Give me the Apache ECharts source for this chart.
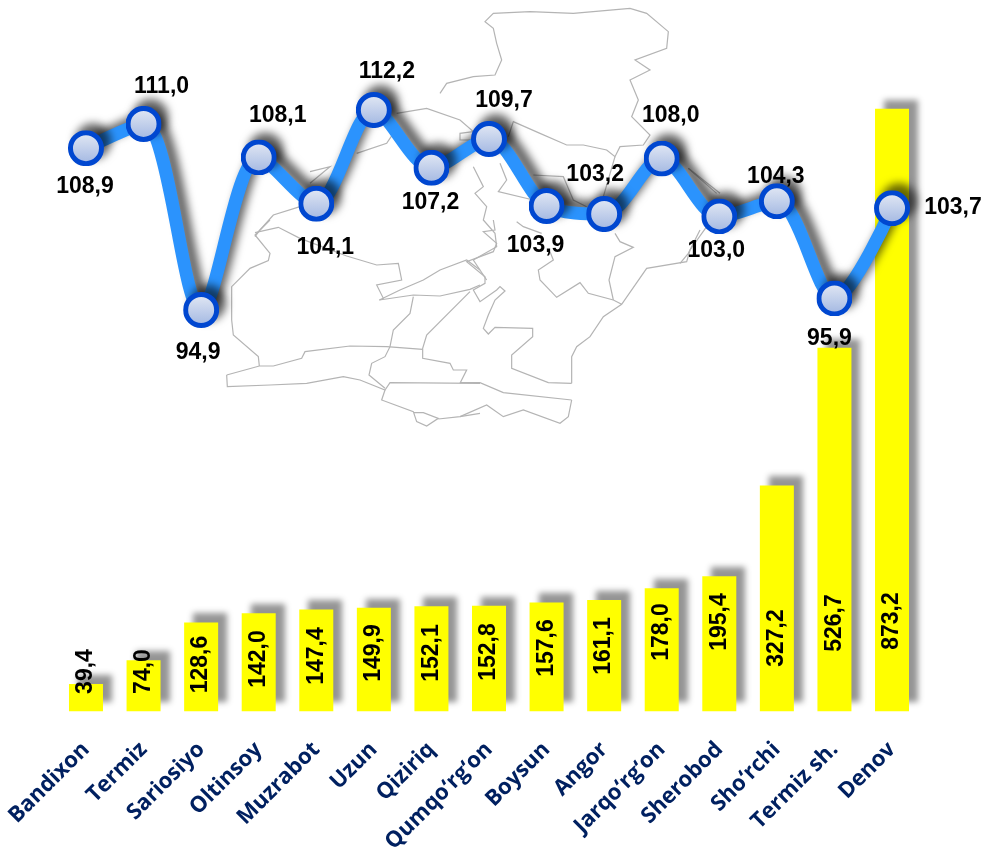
<!DOCTYPE html>
<html><head><meta charset="utf-8">
<script src="https://cdn.jsdelivr.net/npm/echarts@6/dist/echarts.min.js"></script>
<style>html,body{margin:0;padding:0;background:#fff}#c{width:985px;height:857px}</style>
</head><body><div id="c"></div>
<script>
const districts = ['Bandixon','Termiz','Sariosiyo','Oltinsoy','Muzrabot','Uzun','Qiziriq','Qumqo‘rg‘on','Boysun','Angor','Jarqo‘rg‘on','Sherobod','Sho‘rchi','Termiz sh.','Denov'];
const barValues = [39.4,74.0,128.6,142.0,147.4,149.9,152.1,152.8,157.6,161.1,178.0,195.4,327.2,526.7,873.2];
const lineValues = [108.9,111.0,94.9,108.1,104.1,112.2,107.2,109.7,103.9,103.2,108.0,103.0,104.3,95.9,103.7];

// label placement (layout only, px)
const lineLabelOffsets = [[-1,38],[18,-37],[-3,43],[19,-42],[9,44],[13,-38],[-1,35],[15,-38],[-11,40],[-9,-39],[9,-43],[-3,34],[-1,-25],[-5,40],[61,-1]];
const barLabelLift = [40.5,40.5,47.5,53,56,59,59,60,64,66,80,90,74,89,91];

// decorative map outline behind the chart: [cropX, cropY, points in 3x crop coordinates]
const mapOutline = [
 [220,220,[150,0,105,45,150,100,145,122,90,145,35,200,35,300,40,345,115,410,118,438]],
 [220,220,[105,38,175,22,240,55,380,108,470,135,535,130,545,180,470,195,490,235,478,240,540,210,610,180,660,150,740,120,780,150]],
 [220,220,[478,240,580,225,660,228,750,208,780,195]],
 [220,220,[580,230,570,280,520,330,510,380,495,410,455,430,447,465,495,505]],
 [220,220,[750,215,690,275,620,345,608,385,608,415,690,430,700,450,740,450,720,490]],
 [220,220,[20,465,118,438,160,438,245,415,255,395,390,378,500,380,608,388]],
 [220,220,[20,465,22,500,150,495,260,490,370,470,420,480,495,510,510,488,780,490]],
 [220,220,[495,510,485,540,580,575,590,605,620,618,655,595,610,578,580,578]],
 [220,220,[655,597,720,590,780,580]],
 [460,220,[100,0,105,30,70,35,110,70,100,95,20,125,75,170,75,190,40,210,60,245,110,210,120,200,135,213,105,240,85,285,70,325,85,342,105,322,218,325,218,350,155,405,155,445,265,488,335,490]],
 [460,220,[0,488,60,488,130,518,335,540]],
 [460,220,[335,490,335,410,350,380,390,350,430,290,485,253,560,145,680,125,690,90,740,20]],
 [460,220,[0,590,80,555,130,590,190,570,300,610,325,590,335,540]],
 [460,220,[485,253,460,240,385,220,360,188,290,232,240,180,235,150,280,120,270,95]],
 [460,220,[245,40,190,20,170,5]],
 [460,220,[460,240,447,180,465,110,520,82,480,65,465,40]],
 [440,0,[0,280,20,250,100,230,165,225,185,180,170,130,160,85,135,65,160,40,270,35,400,40,570,25,620,40,685,95,680,145,585,180,630,210,570,240,595,300,575,350,630,405,610,435,540,440,525,470,500,450,430,435,380,435,300,400,220,365,205,410]],
 [440,0,[525,470,490,590]],
 [440,0,[745,505,840,580]],
 [440,0,[280,525,370,530,400,600,440,620]],
 [440,0,[180,490,200,540,175,575,280,600]],
 [220,0,[530,340,620,325,720,360,760,395,720,400,720,420,760,420]],
 [220,0,[240,620,160,645,120,690,105,710]],
 [220,0,[410,460,500,430,520,400]],
 [220,0,[270,515,330,500,270,550]],
 [220,0,[760,500,790,560,765,580,800,620,790,660,825,700,830,740,760,780,800,840]],
 [680,90,[25,235,110,310]],
 [680,90,[60,420,25,490,0,520]]
];

const barMin = -1.16, barMax = 1001.7, gridTop = 20, gridBottom = 145, gridH = 857 - gridTop - gridBottom;
const pxPerUnit = gridH / (barMax - barMin);
const fmt = v => v.toFixed(1).replace('.', ',');

const markerSvg = '<svg xmlns="http://www.w3.org/2000/svg" width="36" height="36"><defs><linearGradient id="g" x1="0" y1="0" x2="0" y2="1"><stop offset="0" stop-color="#e2e8f4"/><stop offset="1" stop-color="#a3b8e2"/></linearGradient></defs><circle cx="18" cy="18" r="15.5" fill="url(#g)" stroke="#0047d0" stroke-width="5"/></svg>';

const chart = echarts.init(document.getElementById('c'), null, {renderer:'canvas'});
chart.setOption({
  animation:false,
  backgroundColor:'#ffffff',
  graphic: mapOutline.map(([ox,oy,p]) => {
    const pts=[]; for(let i=0;i<p.length;i+=2) pts.push([ox+p[i]/3, oy+p[i+1]/3]);
    return {type:'polyline', silent:true, z:-1, shape:{points:pts}, style:{stroke:'#b4b4b4', lineWidth:1.2, fill:null}};
  }),
  grid:{left:57.2, right:64.2, top:gridTop, bottom:gridBottom, containLabel:false},
  xAxis:{type:'category', data:districts, axisLine:{show:false,onZero:false}, axisTick:{show:false},
    axisLabel:{interval:0, rotate:45, margin:34, fontFamily:'Open Sans', fontWeight:700, fontSize:22, color:'#002060'}},
  yAxis:[
    {type:'value', min:barMin, max:barMax, show:false, splitLine:{show:false}},
    {type:'value', min:60.12, max:119.99, show:false, splitLine:{show:false}}
  ],
  series:[
    {type:'bar', yAxisIndex:0, barWidth:34, z:2,
      itemStyle:{color:'#ffff00', shadowColor:'rgba(0,0,0,0.42)', shadowBlur:6, shadowOffsetX:9, shadowOffsetY:-9},
      data:barValues.map((v,i)=>({value:v,
        label:{show:true, position:'inside', rotate:90, offset:[barLabelLift[i] - v*pxPerUnit/2 - 0.8, 0],
          formatter:()=>fmt(v), fontFamily:'Liberation Sans', fontWeight:700, fontSize:23, color:'#000'}}))},
    {type:'line', yAxisIndex:1, smooth:0.3, z:3, symbol:'image://data:image/svg+xml;charset=utf-8,'+encodeURIComponent(markerSvg), symbolSize:36,
      lineStyle:{color:'#2b93fd', width:13, shadowColor:'rgba(0,0,0,0.6)', shadowBlur:9, shadowOffsetX:7, shadowOffsetY:-7},
      itemStyle:{opacity:1, shadowColor:'rgba(0,0,0,0.6)', shadowBlur:9, shadowOffsetX:7, shadowOffsetY:-7},
      data:lineValues.map((v,i)=>({value:v,
        label:{show:true, position:'inside', offset:lineLabelOffsets[i],
          formatter:()=>fmt(v), fontFamily:'Liberation Sans', fontWeight:700, fontSize:23, color:'#000'}}))}
  ]
});
</script></body></html>
